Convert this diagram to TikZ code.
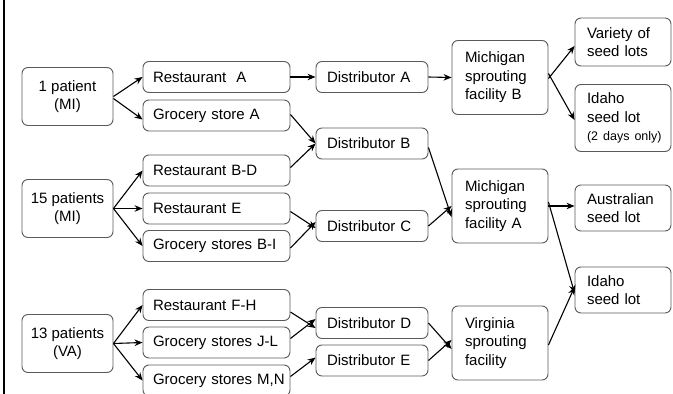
\documentclass[tikz,border=0pt]{standalone}
\usepackage{fontspec}
\setmainfont{Liberation Sans}
\usetikzlibrary{arrows.meta}
\definecolor{boxc}{HTML}{5A5A5A}
\newcommand{\nf}{\fontsize{15}{18.5}\selectfont}
\newcommand{\smallnf}{\fontsize{12.5}{15}\selectfont}
\begin{document}
\begin{tikzpicture}[x=1pt,y=-1pt,
  bx/.style={draw=boxc, rounded corners=6pt, line width=0.9pt, font=\nf, inner ysep=0pt, minimum height=#1},
  lbox/.style={bx=31pt, text width=127pt, inner xsep=10pt, align=left},
  dbox/.style={bx=31pt, text width=90pt, inner xsep=11pt, align=left},
  pbox/.style={bx=58pt, minimum width=91pt, align=center},
  fbox/.style={bx=74pt, text width=70pt, inner xsep=13pt, align=left},
  sbox/.style={bx=#1, text width=72pt, inner xsep=12pt, align=left},
  arr/.style={-{Stealth[length=8pt,width=6.5pt]}, line width=1.1pt}
]
\useasboundingbox (0,0) rectangle (673,394);
\draw[line width=1.6pt] (4,0) -- (4,394);

% patients
\node[pbox] (p1) at (67.5,96.5) {1 patient\\(MI)};
\node[pbox] (p15) at (67.5,208.5) {15 patients\\(MI)};
\node[pbox] (p13) at (67.5,343.5) {13 patients\\(VA)};

% retail
\node[lbox] (rA) at (216.5,77) {Restaurant\ \ A};
\node[lbox] (gA) at (216.5,115.5) {Grocery store A};
\node[lbox] (rBD) at (216.5,170.5) {Restaurant B-D};
\node[lbox] (rE) at (216.5,208.5) {Restaurant E};
\node[lbox] (gBI) at (216.5,246) {Grocery stores B-I};
\node[lbox] (rFH) at (216.5,305) {Restaurant F-H};
\node[lbox] (gJL) at (216.5,342.5) {Grocery stores J-L};
\node[lbox] (gMN) at (216.5,380.5) {\mbox{Grocery stores M,N}};

% distributors
\node[dbox] (dA) at (372,77) {Distributor A};
\node[dbox] (dB) at (372,143.5) {Distributor B};
\node[dbox] (dC) at (372,226) {Distributor C};
\node[dbox] (dD) at (372,323) {Distributor D};
\node[dbox] (dE) at (372,360.5) {Distributor E};

% facilities
\node[fbox] (fB) at (500,77.5) {Michigan\\sprouting\\facility B};
\node[fbox] (fA) at (500,206) {Michigan\\sprouting\\facility A};
\node[fbox] (fV) at (500,343) {Virginia\\sprouting\\facility};

% seed lots
\node[sbox=48pt] (sV) at (623,42) {Variety of\\seed lots};
\node[sbox=67pt] (sI1) at (623,118) {Idaho\\seed lot\\\mbox{\smallnf (2 days only)}};
\node[sbox=46pt] (sAu) at (623,208) {Australian\\seed lot};
\node[sbox=46pt] (sI2) at (623,290) {Idaho\\seed lot};

% arrows: patients -> retail
\draw[arr] (p1.east) -- (rA.west);
\draw[arr] ([yshift=-2pt]p1.east) -- ([yshift=-4pt]gA.west);
\draw[arr] (p15.east) -- (rBD.west);
\draw[arr] (p15.east) -- (rE.west);
\draw[arr] (p15.east) -- (gBI.west);
\draw[arr] (p13.east) -- (rFH.west);
\draw[arr] (p13.east) -- (gJL.west);
\draw[arr] (p13.east) -- (gMN.west);

% retail -> distributors
\draw[arr] (rA.east) -- (dA.west);
\draw[arr] ([yshift=1pt]gA.east) -- (dB.west);
\draw[arr] ([yshift=3pt]rBD.east) -- (dB.west);
\draw[arr] ([yshift=-3pt]rE.east) -- ([yshift=-2pt]dC.west);
\draw[arr] ([yshift=-2pt]gBI.east) -- ([yshift=4pt]dC.west);
\draw[arr] ([yshift=-7pt]rFH.east) -- ([yshift=-5pt]dD.west);
\draw[arr] ([yshift=4pt]gJL.east) -- ([yshift=4pt]dD.west);
\draw[arr] ([yshift=4pt]gMN.east) -- ([yshift=3pt]dE.west);

% distributors -> facilities
\draw[arr] (dA.east) -- (fB.west);
\draw[arr] ([yshift=-4pt]dB.east) -- ([yshift=-11pt]fA.west);
\draw[arr] (dC.east) -- ([yshift=0pt]fA.west);
\draw[arr] (dD.east) -- ([yshift=-6pt]fV.west);
\draw[arr] (dE.east) -- ([yshift=3pt]fV.west);

% facilities -> seed lots
\draw[arr] ([yshift=-1pt]fB.east) -- ([yshift=-4pt]sV.west);
\draw[arr] ([yshift=4pt]fB.east) -- ([yshift=-2pt]sI1.west);
\draw[arr] (fA.east) -- (fA.east -| sAu.west);
\draw[arr] ([yshift=4pt]fA.east) -- ([yshift=-3pt]sI2.west);
\draw[arr] ([yshift=-2pt]fV.east) -- ([yshift=3pt]sI2.west);
\end{tikzpicture}
\end{document}
